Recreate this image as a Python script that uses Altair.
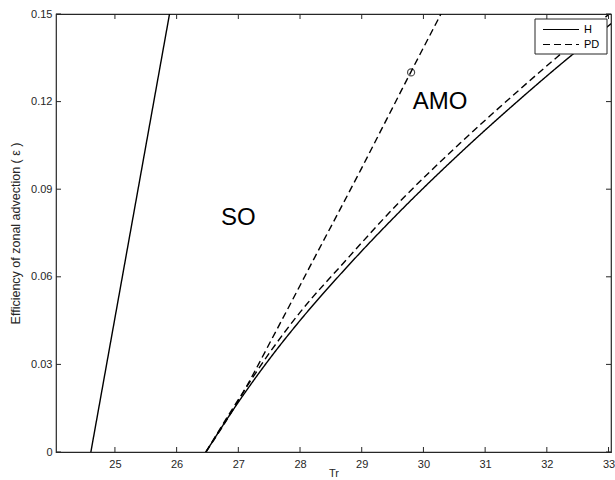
import altair as alt
import pandas as pd

# Stability boundaries in the (Tr, epsilon) plane
so_tr = [24.61, 25.885]
so_eps = [0.0, 0.15]

h_tr = [26.475, 26.918, 27.517, 28.003, 28.733, 29.624, 30.597, 31.569, 32.363, 33.044]
h_eps = [0.0, 0.0145, 0.0322, 0.0451, 0.0627, 0.0825, 0.1024, 0.1209, 0.1352, 0.1467]

pd_low_tr = [26.475, 26.918, 27.517, 28.003, 28.733, 29.624, 30.597, 31.569, 32.169, 33.012]
pd_low_eps = [0.0, 0.0152, 0.0343, 0.0479, 0.0654, 0.0859, 0.1058, 0.1243, 0.1353, 0.15]

pd_up_tr = [26.475, 26.978, 27.626, 28.247, 28.976, 29.495, 29.798, 30.284]
pd_up_eps = [0.0, 0.0167, 0.042, 0.067, 0.0963, 0.1177, 0.1302, 0.15]

marker_tr = [29.8]
marker_eps = [0.13]

x_ticks = [25, 26, 27, 28, 29, 30, 31, 32, 33]
y_ticks = [0, 0.03, 0.06, 0.09, 0.12, 0.15]

region_labels = ["SO", "AMO"]
region_tr = [27.0, 30.27]
region_eps = [0.08, 0.12]

legend_names = ["H", "PD"]
dash_patterns = [[1, 0], [7, 4]]

W, H = 555, 438
FONT = "Liberation Sans"
AX = "#262626"


def curve(name, kind, xs, ys):
    return pd.DataFrame({"curve": name, "kind": kind, "Tr": xs, "eps": ys,
                         "order": range(len(xs))})


lines_df = pd.concat([
    curve("so", "H", so_tr, so_eps),
    curve("h", "H", h_tr, h_eps),
    curve("pd_low", "PD", pd_low_tr, pd_low_eps),
    curve("pd_up", "PD", pd_up_tr, pd_up_eps),
], ignore_index=True)

xs = alt.Scale(domain=[24.045, 33.04], nice=False, zero=False)
ys = alt.Scale(domain=[0, 0.15], nice=False, zero=False)
dash_scale = alt.Scale(domain=legend_names, range=dash_patterns)

x_enc = alt.X("Tr:Q", scale=xs,
              axis=alt.Axis(values=x_ticks, title="Tr", tickSize=0,
                            labelPadding=6, titleY=24, titleBaseline="alphabetic",
                            grid=False, domain=False, format="d"))
y_enc = alt.Y("eps:Q", scale=ys,
              axis=alt.Axis(values=y_ticks, title="Efficiency of zonal advection ( ε )",
                            tickSize=0, labelPadding=4, titlePadding=8,
                            titleFontSize=12.5,
                            grid=False, domain=False,
                            labelExpr="datum.value == 0 ? '0' : format(datum.value, '.2f')"))

lines = alt.Chart(lines_df).mark_line(
    color="black", strokeWidth=1.4, clip=True, interpolate="monotone"
).encode(
    x=x_enc,
    y=y_enc,
    detail="curve:N",
    order="order:Q",
    strokeDash=alt.StrokeDash("kind:N", scale=dash_scale, legend=None),
)

marker = alt.Chart(pd.DataFrame({"Tr": marker_tr, "eps": marker_eps})).mark_point(
    shape="circle", size=50, color="black", strokeWidth=1.2, filled=False
).encode(x=alt.X("Tr:Q", scale=xs), y=alt.Y("eps:Q", scale=ys))

labels = alt.Chart(pd.DataFrame({"t": region_labels, "Tr": region_tr, "eps": region_eps})).mark_text(
    font=FONT, fontSize=24, color="black"
).encode(x=alt.X("Tr:Q", scale=xs), y=alt.Y("eps:Q", scale=ys), text="t:N")

xt = pd.DataFrame({"Tr": x_ticks})
yt = pd.DataFrame({"eps": y_ticks})
tick_len = 5
bottom_ticks = alt.Chart(xt).mark_rule(color=AX, strokeWidth=1).encode(
    x=alt.X("Tr:Q", scale=xs), y=alt.value(H - tick_len), y2=alt.value(H))
top_ticks = alt.Chart(xt).mark_rule(color=AX, strokeWidth=1).encode(
    x=alt.X("Tr:Q", scale=xs), y=alt.value(0), y2=alt.value(tick_len))
left_ticks = alt.Chart(yt).mark_rule(color=AX, strokeWidth=1).encode(
    y=alt.Y("eps:Q", scale=ys), x=alt.value(0), x2=alt.value(tick_len))
right_ticks = alt.Chart(yt).mark_rule(color=AX, strokeWidth=1).encode(
    y=alt.Y("eps:Q", scale=ys), x=alt.value(W - tick_len), x2=alt.value(W))

# Boxed legend in the upper-right corner
LX, LY, LW, LH = 479, 5, 72, 35
row_y = [LY + 10.5, LY + 25.5]
one = pd.DataFrame({"k": [0]})
legend_layers = [
    alt.Chart(one).mark_rect(fill="white", stroke=AX, strokeWidth=1).encode(
        x=alt.value(LX), x2=alt.value(LX + LW), y=alt.value(LY), y2=alt.value(LY + LH))
]
for name, dash, ry in zip(legend_names, dash_patterns, row_y):
    legend_layers.append(
        alt.Chart(one).mark_rule(color="black", strokeWidth=1.2, strokeDash=dash).encode(
            x=alt.value(LX + 8), x2=alt.value(LX + 44), y=alt.value(ry))
    )
    legend_layers.append(
        alt.Chart(one).mark_text(font=FONT, fontSize=11, color="black",
                                 align="left", baseline="middle").encode(
            x=alt.value(LX + 49), y=alt.value(ry), text=alt.value(name))
    )

chart = alt.layer(
    lines, marker, labels, bottom_ticks, top_ticks, left_ticks, right_ticks,
    *legend_layers
).properties(
    width=W, height=H,
    autosize=alt.AutoSizeParams(type="none"),
    padding={"left": 56, "top": 14, "right": 4, "bottom": 28},
    background="white",
).configure_view(
    stroke=AX, strokeWidth=1.2
).configure_axis(
    labelFont=FONT, labelFontSize=11, labelColor=AX,
    titleFont=FONT, titleFontSize=11, titleColor=AX, titleFontWeight="normal",
)

chart.save("out.html", embed_options={"renderer": "svg", "actions": False})
